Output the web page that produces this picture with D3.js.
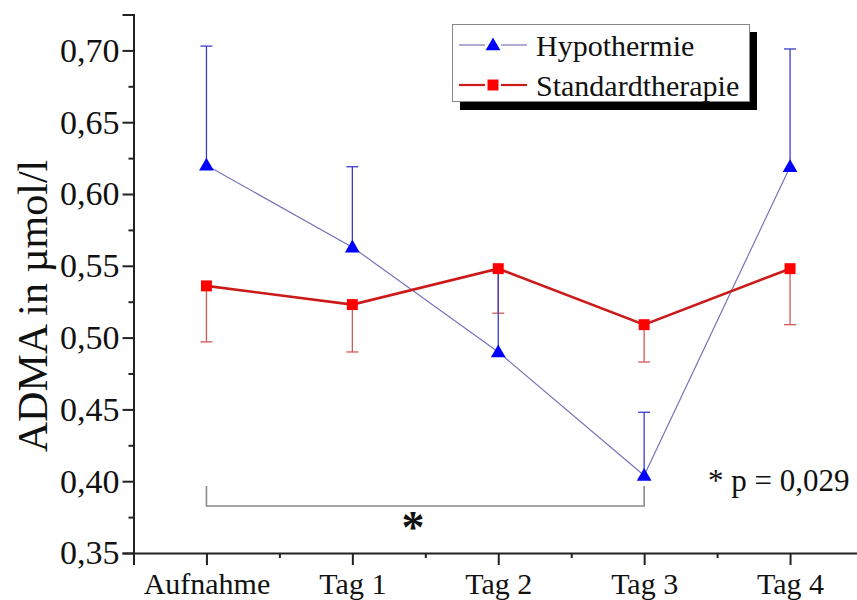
<!DOCTYPE html>
<html>
<head>
<meta charset="utf-8">
<script src="https://cdn.jsdelivr.net/npm/d3@7"></script>
<style>
  html, body { margin: 0; padding: 0; background: #fff; }
  svg { display: block; }
  text { font-family: "Liberation Serif", "Times New Roman", serif; fill: #111; }
</style>
</head>
<body>
<svg id="chart" width="857" height="600"></svg>
<script>
// Time points
const categories = ["Aufnahme", "Tag 1", "Tag 2", "Tag 3", "Tag 4"];

// ADMA (µmol/l): means and standard deviations
const hypoMean = [0.620, 0.563, 0.490, 0.404, 0.619];
const hypoSD   = [0.083, 0.056, 0.056, 0.044, 0.082];
const stdMean  = [0.536, 0.523, 0.548, 0.509, 0.548];
const stdSD    = [0.039, 0.033, 0.031, 0.026, 0.039];

// Axis ticks
const yMajorTicks = [0.35, 0.40, 0.45, 0.50, 0.55, 0.60, 0.65, 0.70];
const yMinorTicks = [0.375, 0.425, 0.475, 0.525, 0.575, 0.625, 0.675];
const xMinorTicks = [0.5, 1.5, 2.5, 3.5];

const seriesNames = ["Hypothermie", "Standardtherapie"];
const pValueLabel = "* p = 0,029";

const svg = d3.select("#chart");
const fmt = v => d3.format(".2f")(v).replace(".", ",");

const x = d3.scaleLinear().domain([-0.5, 4.5]).range([133.5, 863]);
const y = d3.scaleLinear().domain([0.35, 0.725]).range([553, 14.5]);

const FONT = 30;
const hypoLine = "#7474bc", hypoErr = "#3c3cc8", hypoMark = "#0000ff";
const stdLine = "#cc1a1a", stdErr = "#d05a5a", stdMark = "#ff0000";

// Y axis
const yAxis = svg.append("g").attr("transform", "translate(133.5,0)")
  .call(d3.axisLeft(y).tickValues(yMajorTicks).tickSize(11).tickPadding(3).tickFormat(fmt));
yAxis.append("g")
  .call(d3.axisLeft(y).tickValues(yMinorTicks).tickSize(5).tickFormat(""));
yAxis.selectAll("g g path.domain").remove();
yAxis.selectAll("path.domain").attr("stroke", "#222").attr("stroke-width", 2);
yAxis.selectAll(".tick line").attr("stroke", "#222").attr("stroke-width", 2);
yAxis.selectAll(".tick text").attr("font-size", 34).attr("fill", "#111")
  .attr("font-family", "Liberation Serif");

// X axis
const xAxis = svg.append("g").attr("transform", "translate(0,553)")
  .call(d3.axisBottom(x).tickValues(d3.range(categories.length)).tickSize(12).tickPadding(8)
    .tickFormat(i => categories[i]));
xAxis.append("g")
  .call(d3.axisBottom(x).tickValues(xMinorTicks).tickSize(5).tickFormat(""));
xAxis.selectAll("g g path.domain").remove();
xAxis.selectAll("path.domain").attr("stroke", "#222").attr("stroke-width", 2);
xAxis.selectAll(".tick line").attr("stroke", "#222").attr("stroke-width", 2);
xAxis.selectAll(".tick text").attr("font-size", FONT).attr("fill", "#111")
  .attr("font-family", "Liberation Serif");

// Y axis title
svg.append("text")
  .attr("transform", "translate(47,306) rotate(-90)")
  .attr("text-anchor", "middle")
  .attr("font-size", 42)
  .text("ADMA in µmol/l");

const idx = d3.range(categories.length);
const capW = 6;

// Hypothermie line
svg.append("path")
  .attr("d", d3.line().x(i => x(i)).y(i => y(hypoMean[i]))(idx))
  .attr("fill", "none").attr("stroke", hypoLine).attr("stroke-width", 1.2);

// Standardtherapie error bars (downward)
const stdErrG = svg.append("g").attr("stroke", stdErr).attr("stroke-width", 1.3);
idx.forEach(i => {
  const lo = y(stdMean[i] - stdSD[i]);
  stdErrG.append("line").attr("x1", x(i)).attr("x2", x(i)).attr("y1", y(stdMean[i])).attr("y2", lo);
  stdErrG.append("line").attr("x1", x(i) - capW).attr("x2", x(i) + capW).attr("y1", lo).attr("y2", lo);
});

// Hypothermie error bars (upward)
const hypoErrG = svg.append("g").attr("stroke", hypoErr).attr("stroke-width", 1.3);
idx.forEach(i => {
  const hi = y(hypoMean[i] + hypoSD[i]);
  hypoErrG.append("line").attr("x1", x(i)).attr("x2", x(i)).attr("y1", y(hypoMean[i])).attr("y2", hi);
  hypoErrG.append("line").attr("x1", x(i) - capW).attr("x2", x(i) + capW).attr("y1", hi).attr("y2", hi);
});

// Standardtherapie line
svg.append("path")
  .attr("d", d3.line().x(i => x(i)).y(i => y(stdMean[i]))(idx))
  .attr("fill", "none").attr("stroke", stdLine).attr("stroke-width", 2.6);

const tri = d3.symbol().type(d3.symbolTriangle).size(95);
const sq = d3.symbol().type(d3.symbolSquare).size(120);

svg.append("g").selectAll("path").data(idx).join("path")
  .attr("d", tri).attr("transform", i => `translate(${x(i)},${y(hypoMean[i]) + 1})`)
  .attr("fill", hypoMark);

svg.append("g").selectAll("path").data(idx).join("path")
  .attr("d", sq).attr("transform", i => `translate(${x(i)},${y(stdMean[i])})`)
  .attr("fill", stdMark);

// Significance bracket Aufnahme vs. Tag 3
const by = 506, btop = 486;
svg.append("path")
  .attr("d", `M${x(0)},${btop}V${by}H${x(3)}V${btop}`)
  .attr("fill", "none").attr("stroke", "#8a8a8a").attr("stroke-width", 1.6);
svg.append("text")
  .attr("x", 413).attr("y", 543)
  .attr("text-anchor", "middle").attr("font-size", 46).attr("font-weight", "bold")
  .text("*");

svg.append("text")
  .attr("x", 708).attr("y", 491)
  .attr("font-size", 31)
  .text(pValueLabel);

// Legend
const lg = svg.append("g");
lg.append("rect").attr("x", 460).attr("y", 32).attr("width", 297).attr("height", 78).attr("fill", "#000");
lg.append("rect").attr("x", 452.5).attr("y", 24.5).attr("width", 297).attr("height", 77)
  .attr("fill", "#fff").attr("stroke", "#888").attr("stroke-width", 1);

const rows = [
  {name: seriesNames[0], y: 45, stroke: hypoLine, sw: 1.2, sym: tri, fill: hypoMark, dy: 1},
  {name: seriesNames[1], y: 85, stroke: stdLine, sw: 2.2, sym: sq, fill: stdMark, dy: 0}
];
rows.forEach(r => {
  lg.append("line").attr("x1", 459).attr("x2", 485).attr("y1", r.y).attr("y2", r.y)
    .attr("stroke", r.stroke).attr("stroke-width", r.sw);
  lg.append("line").attr("x1", 501).attr("x2", 527).attr("y1", r.y).attr("y2", r.y)
    .attr("stroke", r.stroke).attr("stroke-width", r.sw);
  lg.append("path").attr("d", r.sym).attr("transform", `translate(493,${r.y + r.dy})`).attr("fill", r.fill);
  lg.append("text").attr("x", 536).attr("y", r.y).attr("dy", "0.35em")
    .attr("font-size", FONT).text(r.name);
});
</script>
</body>
</html>
